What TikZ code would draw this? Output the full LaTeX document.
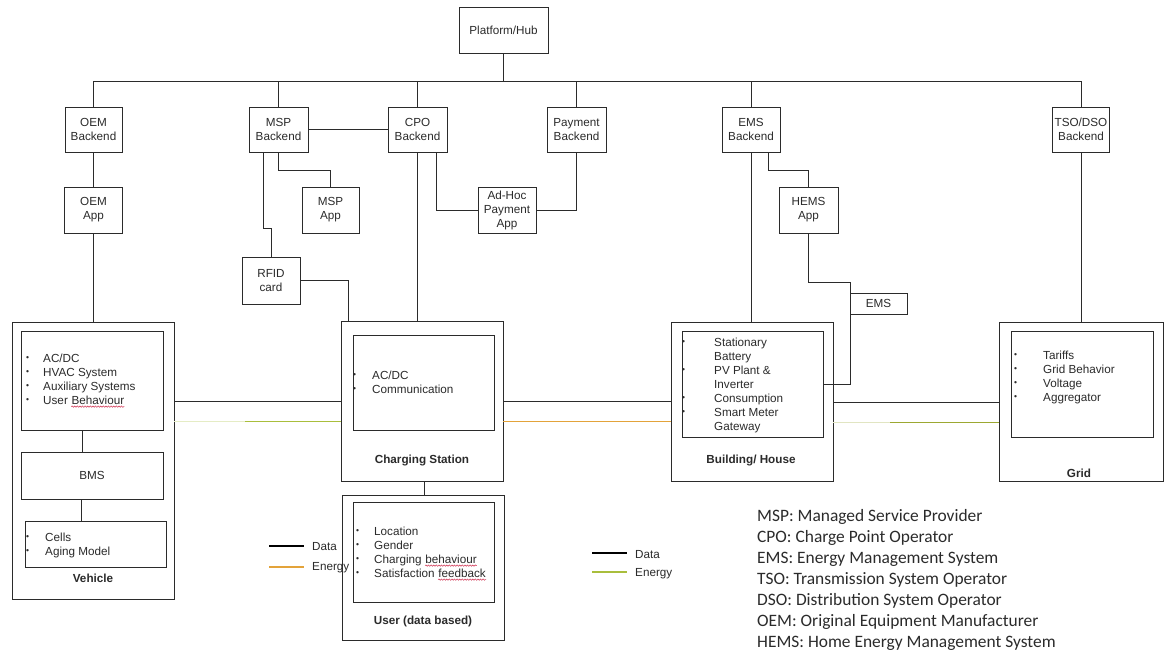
\documentclass[tikz,border=0pt]{standalone}
\usepackage{fontspec}
\setmainfont{Liberation Sans}
\newfontfamily\carlito{Carlito}
\usetikzlibrary{decorations.pathmorphing}
\definecolor{ink}{HTML}{2B2B2B}
\definecolor{spell}{HTML}{D03050}
\definecolor{engreen}{HTML}{A9BE3C}
\definecolor{enolive}{HTML}{9CA832}
\definecolor{enorange}{HTML}{E3A33A}
% small bullet set to the left of a list line; #1 = gap to the text
\newcommand{\bul}[1]{\llap{\raisebox{1.2pt}{\fontsize{8.5}{8.5}\selectfont\textbullet}\hspace{#1pt}}}

\begin{document}
\begin{tikzpicture}[x=1pt, y=-1pt,
  line/.style={draw=ink, line width=0.9pt},
  box/.style={draw=ink, line width=0.9pt, inner sep=0pt, align=center, text=ink,
              font=\fontsize{11.7}{14}\selectfont},
  frame/.style={draw=ink, line width=0.9pt, inner sep=0pt},
  item/.style={anchor=base west, inner sep=0pt, text=ink, font=\fontsize{11.7}{14}\selectfont},
  title/.style={inner sep=0pt, text=ink, font=\bfseries\fontsize{11.7}{14}\selectfont},
  abbr/.style={anchor=base west, inner sep=0pt, text=ink,
               font={\carlito\fontsize{17.4}{21}\selectfont}},
  legline/.style={line width=1.5pt},
  squiggle/.style={draw=spell, line width=0.5pt, decorate,
                   decoration={snake, amplitude=0.7pt, segment length=2.6pt}}]

\fill[white] (0,0) rectangle (1164,651);
\useasboundingbox (0,0) rectangle (1164,651);

% ---------- platform and backends ----------
\node[box, minimum width=89, minimum height=46] (hub) at (503.5,30) {Platform/Hub};
\node[box, minimum width=57, minimum height=45] (oemb) at (93.5,129.5) {OEM\\Backend};
\node[box, minimum width=59, minimum height=45] (mspb) at (278.5,129.5) {MSP\\Backend};
\node[box, minimum width=59, minimum height=45] (cpob) at (417.5,129.5) {CPO\\Backend};
\node[box, minimum width=59, minimum height=45] (payb) at (576.5,129.5) {Payment\\Backend};
\node[box, minimum width=58, minimum height=45] (emsb) at (751,129.5) {EMS\\Backend};
\node[box, minimum width=57, minimum height=45] (tsob) at (1081,129.5) {TSO/DSO\\Backend};

% ---------- apps and cards ----------
\node[box, minimum width=58, minimum height=46] (oema) at (93.5,210) {OEM\\App};
\node[box, minimum width=57, minimum height=46] (mspa) at (330.5,210) {MSP\\App};
\node[box, minimum width=58, minimum height=46] (adhoc) at (507,210) {Ad-Hoc\\Payment\\App};
\node[box, minimum width=59, minimum height=46] (hemsa) at (808.5,210) {HEMS\\App};
\node[box, minimum width=58, minimum height=47] (rfid) at (271,280.5) {RFID\\card};
\node[box, minimum width=57, minimum height=21] (emsbox) at (878.5,303.5) {EMS};

% ---------- vehicle ----------
\node[frame, minimum width=162, minimum height=277] (vehout) at (93,460.5) {};
\node[frame, minimum width=142, minimum height=99] (vehin) at (92,380.5) {};
\node[box, minimum width=142, minimum height=47] (bms) at (92,475.5) {BMS};
\node[frame, minimum width=141, minimum height=46] (cells) at (95.5,544) {};
\node[item] (vi0) at (43,362) {\bul{14}AC/DC};
\node[item] (vi1) at (43,376) {\bul{14}HVAC System};
\node[item] (vi2) at (43,390) {\bul{14}Auxiliary Systems};
\node[item] (vi3) at (43,404) {\bul{14}User};
\node[item] (vi3w) at ([xshift=3.25pt]vi3.base east) {Behaviour};
\draw[squiggle] ([yshift=-2.6pt]vi3w.base west) -- ([yshift=-2.6pt]vi3w.base east);
\node[item] (ce0) at (45,541) {\bul{16}Cells};
\node[item] (ce1) at (45,555) {\bul{16}Aging Model};
\node[title] (vtitle) at (93,578) {Vehicle};

% ---------- charging station ----------
\node[frame, minimum width=162, minimum height=160] (csout) at (422,401) {};
\node[frame, minimum width=141, minimum height=95] (csin) at (423.5,382.5) {};
\node[item] (cs0) at (372,379) {\bul{16}AC/DC};
\node[item] (cs1) at (372,393) {\bul{16}Communication};
\node[title] (cstitle) at (422,460) {Charging Station};

% ---------- user ----------
\node[frame, minimum width=162, minimum height=145] (userout) at (423,567.5) {};
\node[frame, minimum width=141, minimum height=100] (userin) at (423.5,552) {};
\node[item] (us0) at (374,535) {\bul{15}Location};
\node[item] (us1) at (374,549) {\bul{15}Gender};
\node[item] (us2) at (374,563) {\bul{15}Charging};
\node[item] (us2w) at ([xshift=3.25pt]us2.base east) {behaviour};
\node[item] (us3) at (374,577) {\bul{15}Satisfaction};
\node[item] (us3w) at ([xshift=3.25pt]us3.base east) {feedback};
\draw[squiggle] ([yshift=-2.6pt]us2w.base west) -- ([yshift=-2.6pt]us2w.base east);
\draw[squiggle] ([yshift=-2.6pt]us3w.base west) -- ([yshift=-2.6pt]us3w.base east);
\node[title] (ustitle) at (423,621) {User (data based)};

% ---------- building ----------
\node[frame, minimum width=162, minimum height=159] (bldout) at (752,401.5) {};
\node[frame, minimum width=141, minimum height=106] (bldin) at (752.5,384) {};
\node[item] (bl0) at (714,346) {\bul{29}Stationary};
\node[item] (bl1) at (714,360) {Battery};
\node[item] (bl2) at (714,374) {\bul{29}PV Plant \&};
\node[item] (bl3) at (714,388) {Inverter};
\node[item] (bl4) at (714,402) {\bul{29}Consumption};
\node[item] (bl5) at (714,416) {\bul{29}Smart Meter};
\node[item] (bl6) at (714,430) {Gateway};
\node[title] (bltitle) at (751,460) {Building/ House};

% ---------- grid ----------
\node[frame, minimum width=164, minimum height=159] (gridout) at (1081,401.5) {};
\node[frame, minimum width=142, minimum height=106] (gridin) at (1082,384) {};
\foreach \t [count=\i from 0] in {Tariffs, Grid Behavior, Voltage, Aggregator}
  \node[item] (gr\i) at (1043,359+14*\i) {\bul{26}\t};
\node[title] (grtitle) at (1079,473) {Grid};

% ---------- data connectors ----------
\coordinate (bus) at (93.5,81);
\draw[line] (oemb.north |- bus) -- (tsob.north |- bus);
\draw[line] (hub.south) -- (hub.south |- bus);
\foreach \n in {oemb, mspb, cpob, payb, emsb, tsob}
  \draw[line] (\n.north) -- (\n.north |- bus);
\draw[line] (oemb) -- (oema);
\draw[line] (oema.south) -- (oema.south |- vehout.north);
\draw[line] (mspb) -- (cpob);
\draw[line] (mspb.south) -- ++(0,18) -| (mspa.north);
\draw[line] ([xshift=-15.5pt]mspb.south) -- ++(0,76) -| (rfid.north);
\draw[line] (rfid.east) -| ([xshift=8pt]csout.north west);
\draw[line] (cpob.south) -- (cpob.south |- csout.north);
\draw[line] ([xshift=19pt]cpob.south) |- (adhoc.west);
\draw[line] (adhoc.east) -| (payb.south);
\draw[line] (emsb.south) -- (emsb.south |- bldout.north);
\draw[line] ([xshift=17pt]emsb.south) -- ++(0,18) -| (hemsa.north);
\coordinate (hj) at (850,282);
\draw[line] (hemsa.south) |- (hj) |- (bldin.east);
\draw[line] (tsob.south) -- (tsob.south |- gridout.north);
\draw[line] ([xshift=-10pt]vehin.south) -- ([xshift=-10pt]vehin.south |- bms.north);
\draw[line] ([xshift=-11pt]bms.south) -- ([xshift=-11pt]bms.south |- cells.north);
\draw[line] ([xshift=2pt]csout.south) -- ([xshift=2pt]csout.south |- userout.north);

\coordinate (d1) at (0,401);
\coordinate (d2) at (0,402);
\draw[line] (vehout.east |- d1) -- (csout.west |- d1);
\draw[line] (csout.east |- d1) -- (bldout.west |- d1);
\draw[line] (bldout.east |- d2) -- (gridout.west |- d2);

% ---------- energy connectors ----------
\coordinate (e1) at (245,421);
\coordinate (e2) at (890,422);
\draw[line width=0.9pt, engreen!30] (vehout.east |- e1) -- (e1);
\draw[line width=0.9pt, engreen] (e1) -- (csout.west |- e1);
\draw[line width=0.9pt, enorange] (csout.east |- e1) -- (bldout.west |- e1);
\draw[line width=0.9pt, enolive!30] (bldout.east |- e2) -- (e2);
\draw[line width=0.9pt, enolive] (e2) -- (gridout.west |- e2);

% ---------- legends ----------
\coordinate (la1) at (269,546); \coordinate (lb1) at (304,546);
\coordinate (la2) at (269,567); \coordinate (lb2) at (304,567);
\draw[legline, black] (la1) -- (lb1);
\draw[legline, enorange] (la2) -- (lb2);
\node[item, anchor=west] (lgd1) at (312,547) {Data};
\node[item, anchor=west] (lge1) at (312,568) {Energy};

\coordinate (la3) at (592,553); \coordinate (lb3) at (627,553);
\coordinate (la4) at (592,572); \coordinate (lb4) at (627,572);
\draw[legline, black] (la3) -- (lb3);
\draw[legline, engreen] (la4) -- (lb4);
\node[item, anchor=west] (lgd2) at (635,555) {Data};
\node[item, anchor=west] (lge2) at (635,574) {Energy};

% ---------- abbreviations ----------
\foreach \t [count=\i from 0] in {MSP: Managed Service Provider, CPO: Charge Point Operator,
    EMS: Energy Management System, TSO: Transmission System Operator,
    DSO: Distribution System Operator, OEM: Original Equipment Manufacturer,
    HEMS: Home Energy Management System}
  \node[abbr] (ab\i) at (757,521+21.1*\i) {\t};
\end{tikzpicture}
\end{document}
